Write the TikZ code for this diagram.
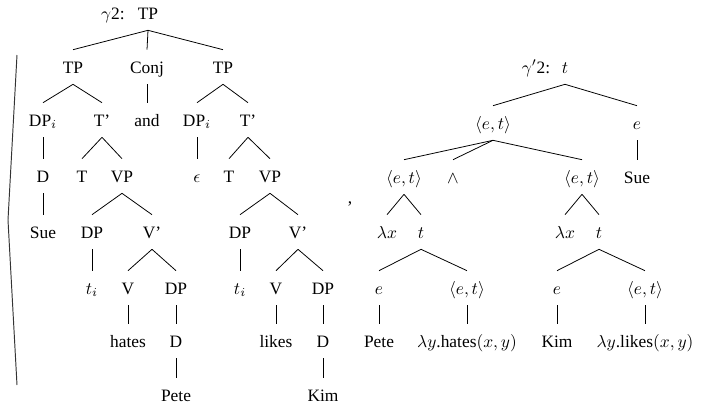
\documentclass[tikz,border=0pt]{standalone}
\usepackage{fontspec}
\setmainfont{Liberation Serif}
\begin{document}
\begin{tikzpicture}[x=0.5747pt,y=-0.5747pt,
  w/.style={anchor=base,yshift=-3.45pt,inner sep=0pt,text height=13.2pt,text depth=6.3pt},
  br/.style={line width=0.45pt},
  lbl/.style={anchor=base,yshift=-3.45pt,inner sep=0pt}]
\useasboundingbox (0,0) rectangle (701,410);
% ---------- left tree ----------
\node[w] (r) at (148,13) {TP};
\node[lbl] (rl) at (113,13) {$\gamma$2:};
\node[w] (l1) at (73,67) {TP};
\node[w] (l2) at (147,67) {Conj};
\node[w] (l3) at (223,67) {TP};
\node[w] (a1) at (43,120) {DP$_i$};
\node[w] (a2) at (102,120) {T'};
\node[w] (b1) at (147,120) {and};
\node[w] (c1) at (197,120) {DP$_i$};
\node[w] (c2) at (248,120) {T'};
\node[w] (a11) at (43,176) {D};
\node[w] (a21) at (82,176) {T};
\node[w] (a22) at (122,176) {VP};
\node[w] (c11) at (197,176) {$\epsilon$};
\node[w] (c21) at (229,176) {T};
\node[w] (c22) at (270,176) {VP};
\node[w] (a111) at (43,232) {Sue};
\node[w] (a221) at (92,232) {DP};
\node[w] (a222) at (152,232) {V'};
\node[w] (c221) at (240,232) {DP};
\node[w] (c222) at (298,232) {V'};
\node[w] (a2211) at (92,288) {$t_i$};
\node[w] (a2221) at (128,288) {V};
\node[w] (a2222) at (176,288) {DP};
\node[w] (c2211) at (240,288) {$t_i$};
\node[w] (c2221) at (276,288) {V};
\node[w] (c2222) at (323,288) {DP};
\node[w] (hates) at (128,341) {hates};
\node[w] (a22221) at (176,341) {D};
\node[w] (likes) at (276,341) {likes};
\node[w] (c22221) at (323,341) {D};
\node[w] (pete) at (176,395) {Pete};
\node[w] (kim) at (323,395) {Kim};
\foreach \p/\c in {r/l1,r/l2,r/l3,l1/a1,l1/a2,l2/b1,l3/c1,l3/c2,a1/a11,a2/a21,a2/a22,
  c1/c11,c2/c21,c2/c22,a11/a111,a22/a221,a22/a222,c22/c221,c22/c222,a221/a2211,
  a222/a2221,a222/a2222,c221/c2211,c222/c2221,c222/c2222,a2221/hates,a2222/a22221,
  c2221/likes,c2222/c22221,a22221/pete,c22221/kim}
  \draw[br] (\p.south) -- (\c.north);
% bracket and comma
\coordinate (bt) at (17,55);
\coordinate (bm) at (8,220);
\coordinate (bb) at (17,385);
\draw[line width=0.55pt,black!80] (bt) -- (bm) -- (bb);
\node[lbl] (comma) at (350,197) {,};
% ---------- right tree ----------
\node[w] (R) at (565,67) {$t$};
\node[lbl] (Rl) at (536,67) {$\gamma'$2:};
\node[w] (R1) at (493,123) {$\langle e,t\rangle$};
\node[w] (R2) at (637,123) {$e$};
\node[w] (R11) at (404,177) {$\langle e,t\rangle$};
\node[w] (R12) at (453,177) {$\wedge$};
\node[w] (R13) at (582,177) {$\langle e,t\rangle$};
\node[w] (R21) at (637,177) {Sue};
\node[w] (R111) at (387,232) {$\lambda x$};
\node[w] (R112) at (421,232) {$t$};
\node[w] (R131) at (565,232) {$\lambda x$};
\node[w] (R132) at (599,232) {$t$};
\node[w] (R1121) at (379,288) {$e$};
\node[w] (R1122) at (467,288) {$\langle e,t\rangle$};
\node[w] (R1321) at (557,288) {$e$};
\node[w] (R1322) at (645,288) {$\langle e,t\rangle$};
\node[w] (pete2) at (379,341) {Pete};
\node[w] (hates2) at (467,341) {$\lambda y$.hates$(x,y)$};
\node[w] (kim2) at (557,341) {Kim};
\node[w] (likes2) at (645,341) {$\lambda y$.likes$(x,y)$};
\foreach \p/\c in {R/R1,R/R2,R1/R11,R1/R12,R1/R13,R2/R21,R11/R111,R11/R112,
  R13/R131,R13/R132,R112/R1121,R112/R1122,R132/R1321,R132/R1322,
  R1121/pete2,R1122/hates2,R1321/kim2,R1322/likes2}
  \draw[br] (\p.south) -- (\c.north);
\end{tikzpicture}
\end{document}
